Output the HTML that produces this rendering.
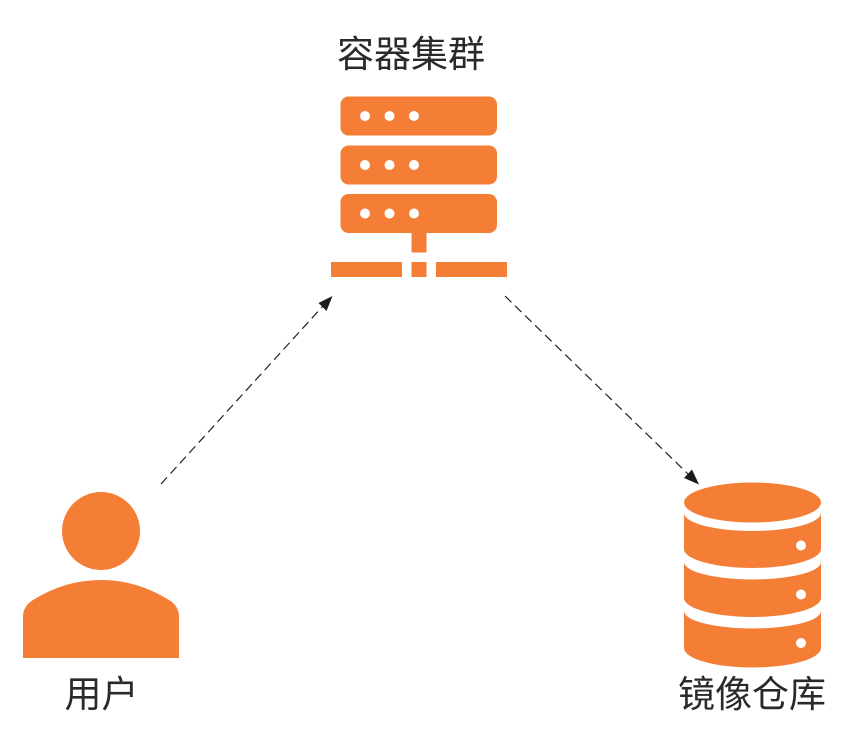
<!DOCTYPE html>
<html><head><meta charset="utf-8"><style>
html,body{margin:0;padding:0;background:#fff}
svg{display:block}
text{font-family:"Liberation Sans","Noto Sans CJK SC",sans-serif;font-size:37px;fill:#2a2a2a;text-anchor:middle}
</style></head><body>
<svg width="860" height="740" viewBox="0 0 860 740" xmlns="http://www.w3.org/2000/svg">
<rect width="860" height="740" fill="#fff"/>
<text x="411" y="67">容器集群</text>
<text x="101.500" y="707">用户</text>
<text x="752" y="707">镜像仓库</text>
<g fill="#f57e37">
<rect x="340.500" y="96.500" width="156.500" height="39" rx="8"/>
<rect x="340.500" y="145.500" width="156.500" height="39" rx="8"/>
<rect x="340.500" y="194" width="156.500" height="39" rx="8"/>
<rect x="411.500" y="233" width="15" height="19.500"/>
<rect x="331" y="262" width="71" height="15"/>
<rect x="411.500" y="262" width="15" height="15"/>
<rect x="436" y="262" width="71" height="15"/>
<circle cx="101" cy="531" r="39"/>
<path d="M23 658V617Q23 606 33 600Q65 580 101 580Q137 580 169 600Q179 606 179 617V658Z"/>
<ellipse cx="752.500" cy="502.500" rx="68.500" ry="20"/>
<path d="M684 513A68.500 18 0 0 0 821 513V549A68.500 19 0 0 1 684 549Z"/>
<path d="M684 562A68.500 17.500 0 0 0 821 562V598A68.500 19 0 0 1 684 598Z"/>
<path d="M684 611A68.500 17.500 0 0 0 821 611V648A68.500 19.500 0 0 1 684 648Z"/>
</g>
<g fill="#fff">
<circle cx="365" cy="116" r="5"/><circle cx="389.500" cy="116" r="5"/><circle cx="414" cy="116" r="5"/>
<circle cx="365" cy="165" r="5"/><circle cx="389.500" cy="165" r="5"/><circle cx="414" cy="165" r="5"/>
<circle cx="365" cy="213.500" r="5"/><circle cx="389.500" cy="213.500" r="5"/><circle cx="414" cy="213.500" r="5"/>
<circle cx="801" cy="545.500" r="5"/><circle cx="801" cy="594.500" r="5"/><circle cx="801" cy="643" r="5"/>
</g>
<g stroke="#222" stroke-width="1.200" stroke-dasharray="9 5" fill="none">
<line x1="161" y1="484" x2="323" y2="306"/>
<line x1="505" y1="296" x2="689" y2="475"/>
</g>
<g fill="#1a1a1a">
<polygon points="332.500,296 318.500,303 326.500,311"/>
<polygon points="699,484.500 692,469.500 684,478"/>
</g>
</svg>
</body></html>
